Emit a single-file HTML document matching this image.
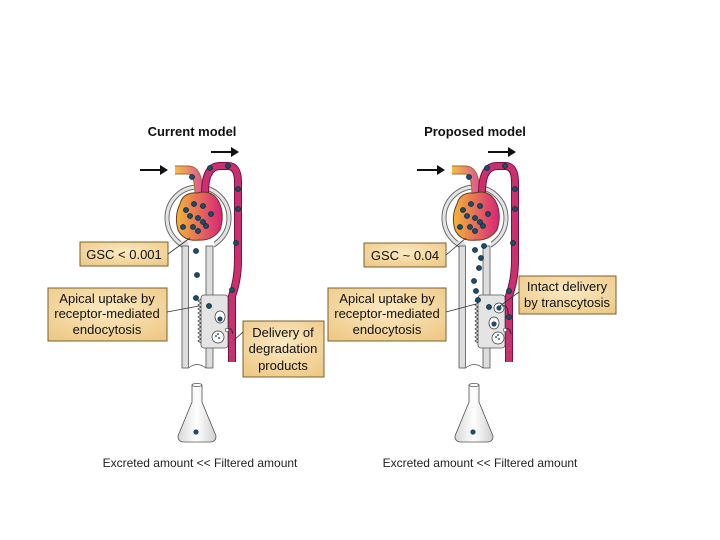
<!DOCTYPE html>
<html><head><meta charset="utf-8"><style>
html,body{margin:0;padding:0;background:#fff;width:720px;height:540px;overflow:hidden}
svg{display:block;font-family:"Liberation Sans",Arial,sans-serif}
</style></head><body>
<svg width="720" height="540" viewBox="0 0 720 540">
<defs>
<linearGradient id="g" x1="0" x2="1" y1="0" y2="0"><stop offset="0" stop-color="#f3b53a"/><stop offset="1" stop-color="#d8237a"/></linearGradient>
<linearGradient id="t" x1="0" x2="1"><stop offset="0" stop-color="#f5c040"/><stop offset="1" stop-color="#e0608a"/></linearGradient>
<radialGradient id="bx" cx="0.5" cy="0.4" r="0.8"><stop offset="0" stop-color="#fbe9c2"/><stop offset="1" stop-color="#ecc57e"/></radialGradient>
<linearGradient id="fl" x1="0" x2="1"><stop offset="0" stop-color="#d8d8d8"/><stop offset="0.5" stop-color="#fff"/><stop offset="1" stop-color="#d0d0d0"/></linearGradient>
<g id="neph">
 <!-- capsule -->
 <circle cx="198" cy="218" r="33" fill="#fff" stroke="#666" stroke-width="1"/>
 <circle cx="198" cy="218" r="29" fill="#fff" stroke="#666" stroke-width="1"/>
 <circle cx="198" cy="218" r="31" fill="none" stroke="#e2e2e2" stroke-width="2.5"/>
 <!-- tubule walls -->
 <rect x="183" y="240" width="31" height="14" fill="#fff"/>
 <path d="M182,247 Q182,244 178,242 L186,240 Q189,244 189,250 Z" fill="#ddd"/>
 <rect x="182" y="246" width="6.5" height="122" fill="#ddd" stroke="#555" stroke-width="0.8"/>
 <rect x="206" y="246" width="7" height="122" fill="#ddd" stroke="#555" stroke-width="0.8"/>
 <path d="M188.5,368 Q197,361 206,368" stroke="#555" fill="none" stroke-width="0.8"/>
 <!-- afferent -->
 <path d="M175,170 H188 Q199,170 199,195" stroke="#a06a30" stroke-width="9" fill="none"/>
 <path d="M175,170 H188 Q199,170 199,195" stroke="url(#t)" stroke-width="7" fill="none"/>
 <!-- efferent -->
 <path d="M205,193 Q205,166 220,166 H228 Q238,166 238,182 V260 Q238,280 232,296 V362" stroke="#7a1040" stroke-width="8" fill="none"/>
 <path d="M205,193 Q205,166 220,166 H228 Q238,166 238,182 V260 Q238,280 232,296 V362" stroke="#c8306e" stroke-width="6" fill="none"/>
 <!-- glomerulus -->
 <path d="M180,204 Q183,192 197,193 Q212,189 219,202 Q225,215 220,230 Q212,241 199,240 Q184,242 178,230 Q174,216 180,204Z" fill="url(#g)" stroke="#6a3a20" stroke-width="1"/>
 <g fill="#1d4d6a" stroke="#0b2a3c" stroke-width="0.8">
  <circle cx="194" cy="204" r="2.5"/><circle cx="186" cy="210" r="2.5"/><circle cx="203" cy="206" r="2.5"/>
  <circle cx="190" cy="216" r="2.5"/><circle cx="198" cy="218" r="2.5"/><circle cx="211" cy="214" r="2.5"/>
  <circle cx="183" cy="227" r="2.5"/><circle cx="193" cy="227" r="2.5"/><circle cx="203" cy="222" r="2.5"/><circle cx="198" cy="231" r="2.5"/><circle cx="206" cy="226" r="2.5"/>
  <circle cx="192" cy="177" r="2.5"/><circle cx="210" cy="168" r="2.5"/><circle cx="228" cy="166" r="2.5"/>
  <circle cx="238" cy="189" r="2.5"/><circle cx="238" cy="209" r="2.5"/><circle cx="236" cy="243" r="2.5"/>
 </g>
 <!-- cell -->
 <rect x="201" y="295" width="27" height="53" rx="3" fill="#e4e4e4" stroke="#555" stroke-width="0.8"/>
 <path d="M201,299 l-3,2 l3,2 l-3,2 l3,2 l-3,2 l3,2 l-3,2 l3,2 l-3,2 l3,2 l-3,2 l3,2 l-3,2 l3,2 l-3,2 l3,2 l-3,2 l3,2 l-3,2 l3,2 l-3,2 l3,2" fill="none" stroke="#444" stroke-width="0.8"/>
 <!-- flask -->
 <path d="M192,385 V402 L178,436 Q178,442 184,442 H210 Q216,442 216,436 L202,402 V385 Z" fill="url(#fl)" stroke="#555" stroke-width="0.8"/>
 <ellipse cx="197" cy="385" rx="5" ry="1.5" fill="#fff" stroke="#555" stroke-width="0.7"/>
 <circle cx="196" cy="432" r="2.6" fill="#1d4d6a"/>
 <!-- arrows -->
 <path d="M140,170 H162" stroke="#111" stroke-width="2"/><path d="M168,170 L160,165 V175Z" fill="#111"/>
 <path d="M211,152 H232" stroke="#111" stroke-width="2"/><path d="M239,152 L231,147 V157Z" fill="#111"/>
</g>
</defs>

<use href="#neph"/>
<use href="#neph" transform="translate(277,0)"/>

<!-- left specific -->
<g fill="#1d4d6a" stroke="#0b2a3c" stroke-width="0.8">
 <circle cx="196" cy="251" r="2.5"/><circle cx="197" cy="275" r="2.5"/><circle cx="196" cy="298" r="2.5"/><circle cx="209" cy="306" r="2.5"/>
 <circle cx="232" cy="290" r="2.5"/>
</g>
<ellipse cx="220" cy="317" rx="5" ry="6" fill="#fff" stroke="#333" stroke-width="0.7"/><circle cx="220" cy="319" r="2.6" fill="#1d4d6a"/>
<ellipse cx="218" cy="337" rx="6" ry="6" fill="#fff" stroke="#333" stroke-width="0.7"/>
<g fill="#2a6a8a"><circle cx="216" cy="336" r="1"/><circle cx="219" cy="338" r="1"/><circle cx="218" cy="334" r="1"/></g>
<path d="M227,330 q4,-4 6,4" fill="none" stroke="#222" stroke-width="0.8"/>
<circle cx="227" cy="330" r="1.8" fill="#fff" stroke="#333" stroke-width="0.6"/>
<g fill="#a05090"><circle cx="231" cy="340" r="1"/><circle cx="232" cy="347" r="1"/><circle cx="230" cy="354" r="1"/></g>

<!-- right specific -->
<g fill="#1d4d6a" stroke="#0b2a3c" stroke-width="0.8">
 <circle cx="475" cy="250" r="2.5"/><circle cx="484" cy="246" r="2.5"/><circle cx="481" cy="258" r="2.5"/><circle cx="479" cy="268" r="2.5"/>
 <circle cx="474" cy="281" r="2.5"/><circle cx="476" cy="291" r="2.5"/><circle cx="478" cy="300" r="2.5"/>
 <circle cx="489" cy="307" r="2.5"/><circle cx="509" cy="291" r="2.5"/><circle cx="509" cy="317" r="2.5"/>
</g>
<ellipse cx="499" cy="308" rx="5" ry="5" fill="#fff" stroke="#333" stroke-width="0.7"/><circle cx="499" cy="308" r="2.6" fill="#1d4d6a"/>
<ellipse cx="494" cy="323" rx="5" ry="6" fill="#fff" stroke="#333" stroke-width="0.7"/><circle cx="494" cy="324" r="2.6" fill="#1d4d6a"/>
<ellipse cx="498" cy="338" rx="6" ry="6" fill="#fff" stroke="#333" stroke-width="0.7"/>
<g fill="#2a6a8a"><circle cx="496" cy="337" r="1"/><circle cx="499" cy="339" r="1"/><circle cx="498" cy="335" r="1"/></g>
<path d="M502,306 q6,-2 6,8" fill="none" stroke="#222" stroke-width="0.8"/>
<path d="M505,330 q4,-4 6,4" fill="none" stroke="#222" stroke-width="0.8"/>
<circle cx="505" cy="330" r="1.8" fill="#fff" stroke="#333" stroke-width="0.6"/>
<g fill="#a05090"><circle cx="508" cy="341" r="1"/><circle cx="509" cy="348" r="1"/><circle cx="507" cy="355" r="1"/></g>

<!-- titles -->
<text x="192" y="136" font-size="13" font-weight="bold" text-anchor="middle" fill="#111">Current model</text>
<text x="475" y="136" font-size="13" font-weight="bold" text-anchor="middle" fill="#111">Proposed model</text>

<!-- label boxes -->
<g stroke="#7a6030" stroke-width="1" fill="url(#bx)">
 <rect x="80" y="242" width="88" height="24"/>
 <rect x="48" y="288" width="119" height="53"/>
 <rect x="243" y="321" width="81" height="56"/>
 <rect x="364" y="243" width="82" height="24"/>
 <rect x="328" y="288" width="118" height="53"/>
 <rect x="519" y="276" width="97" height="38"/>
</g>
<g stroke="#333" stroke-width="0.8" fill="none">
 <path d="M168,254 L190,238"/><path d="M167,312 L199,306"/><path d="M243,332 L234,340"/>
 <path d="M446,255 L466,238"/><path d="M446,312 L476,304"/><path d="M519,292 L500,306"/>
</g>
<g font-size="13" fill="#111" text-anchor="middle">
 <text x="124" y="259">GSC &lt; 0.001</text>
 <text x="107" y="303">Apical uptake by</text>
 <text x="107" y="318">receptor-mediated</text>
 <text x="107" y="334">endocytosis</text>
 <text x="283" y="337">Delivery of</text>
 <text x="283" y="353">degradation</text>
 <text x="283" y="370">products</text>
 <text x="405" y="260">GSC ~ 0.04</text>
 <text x="387" y="303">Apical uptake by</text>
 <text x="387" y="318">receptor-mediated</text>
 <text x="387" y="334">endocytosis</text>
 <text x="567" y="291">Intact delivery</text>
 <text x="567" y="307">by transcytosis</text>
</g>
<g font-size="12" fill="#222" text-anchor="middle">
 <text x="200" y="467">Excreted amount &lt;&lt; Filtered amount</text>
 <text x="480" y="467">Excreted amount &lt;&lt; Filtered amount</text>
</g>
</svg>
</body></html>
